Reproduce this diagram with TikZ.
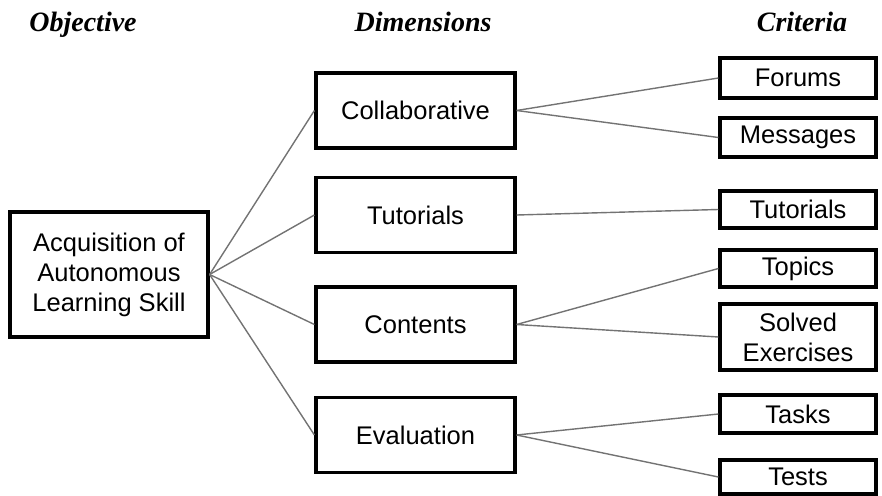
\documentclass[tikz,border=0pt]{standalone}
\usepackage{fontspec}
\setmainfont{Liberation Sans}
\newfontfamily\headfont{Liberation Serif}
\begin{document}
\begin{tikzpicture}[x=1pt,y=-1pt,
  box/.style={draw=black, line width=3.2pt, fill=white, inner sep=0pt,
    align=center, font=\fontsize{25.5}{30}\selectfont},
  dimbox/.style={box, minimum width=199pt, minimum height=75pt},
  critbox/.style={box, minimum width=156pt},
  head/.style={anchor=base, font=\headfont\bfseries\itshape\fontsize{28}{32}\selectfont},
  link/.style={draw=black!55, line width=1.4pt}]
\useasboundingbox (0,0) rectangle (882,495);

% column headings
\node[head] (hobj)  at (83,32)  {Objective};
\node[head] (hdim)  at (423,32) {Dimensions};
\node[head] (hcrit) at (802,32) {Criteria};

% objective
\node[box, minimum width=198pt, minimum height=125pt] (obj) at (109,274.5)
  {Acquisition of\\Autonomous\\Learning Skill};

% dimensions
\node[dimbox] (col) at (415.5,110.5) {Collaborative};
\node[dimbox] (tut) at (415.5,215)   {Tutorials};
\node[dimbox] (con) at (415.5,324.5) {Contents};
\node[dimbox] (eva) at (415.5,435)   {Evaluation};

% criteria
\node[critbox, minimum height=40pt] (forums)   at (798,78)    {Forums};
\node[critbox, minimum height=39pt] (messages) at (798,137.5) {Messages};
\node[critbox, minimum height=37pt] (ctut)     at (798,209.5) {Tutorials};
\node[critbox, minimum height=37pt] (topics)   at (798,268.5) {Topics};
\node[critbox, minimum height=66pt] (solved)   at (798,337)   {Solved\\Exercises};
\node[critbox, minimum height=38pt] (tasks)    at (798,414)   {Tasks};
\node[critbox, minimum height=34pt] (tests)    at (798,477)   {Tests};

% connectors
\foreach \d in {col,tut,con,eva}
  \draw[link] (obj.east) -- (\d.west);
\draw[link] (col.east) -- (forums.west);
\draw[link] (col.east) -- (messages.west);
\draw[link] (tut.east) -- (ctut.west);
\draw[link] (con.east) -- (topics.west);
\draw[link] (con.east) -- (solved.west);
\draw[link] (eva.east) -- (tasks.west);
\draw[link] (eva.east) -- (tests.west);
\end{tikzpicture}
\end{document}
